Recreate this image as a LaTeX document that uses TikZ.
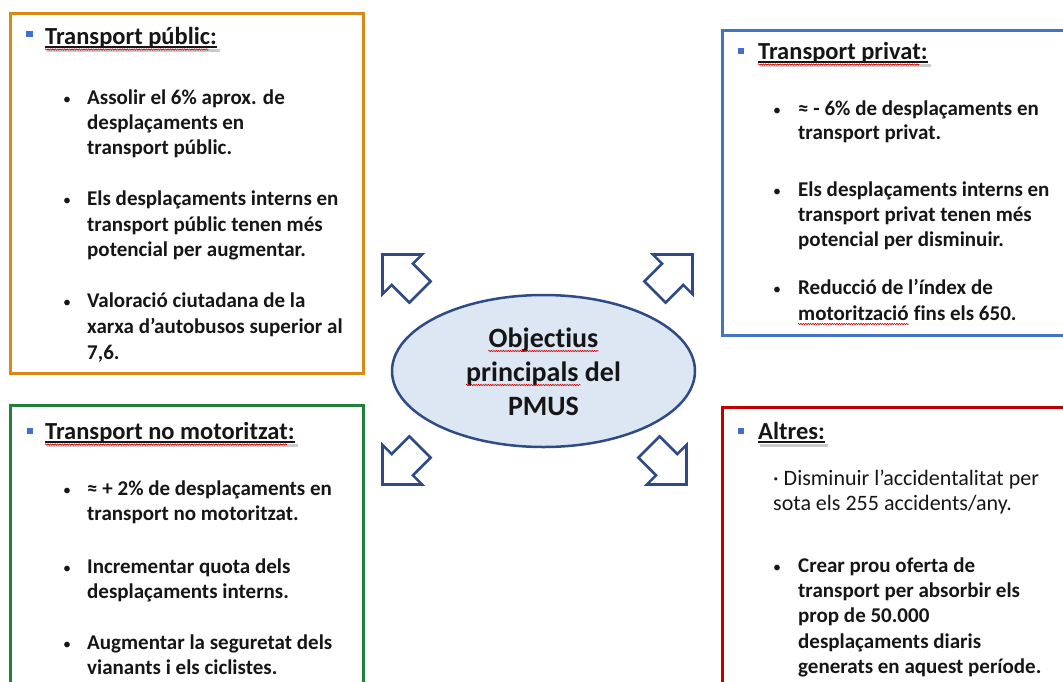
\documentclass[tikz,border=0pt]{standalone}
\usepackage{fontspec}
\setmainfont{Carlito}[Ligatures={NoCommon}]
\usetikzlibrary{calc,shapes.geometric,decorations.pathmorphing}

\definecolor{orangeframe}{HTML}{D98A16}
\definecolor{blueframe}{HTML}{4472C4}
\definecolor{greenframe}{HTML}{23803A}
\definecolor{redframe}{HTML}{C00000}
\definecolor{navy}{HTML}{2F4B86}
\definecolor{ellfill}{HTML}{DDE7F3}
\definecolor{sqblue}{HTML}{3F70D0}
\definecolor{ink}{HTML}{161616}

\tikzset{
  frame/.style={line width=3pt},
  head/.style={anchor=base west, inner sep=0pt, text=ink,
    font=\fontsize{24.5}{29}\selectfont\bfseries},
  ul/.style={ink, line width=1.4pt},
  ulshadow/.style={black!45, line width=3pt, opacity=0.45},
  body/.style={anchor=base west, inner sep=0pt, text=ink,
    font=\fontsize{21}{25}\selectfont\bfseries},
  plain/.style={anchor=base west, inner sep=0pt, text=ink,
    font=\fontsize{22}{25}\selectfont},
  dot/.style={anchor=base, inner sep=0pt, text=ink,
    font=\fontsize{16}{25}\selectfont},
  sq/.style={fill=sqblue},
  spell/.style={red!85!black, line width=0.6pt, decorate,
    decoration={zigzag, amplitude=0.7pt, segment length=2.4pt}},
  title/.style={anchor=base, inner sep=0pt, text=ink,
    font=\fontsize{28}{34}\selectfont\bfseries},
  blockarrow/.pic={
    \draw[navy, line width=2.6pt, line join=miter, fill=white]
      (0,-15) -- (25,-15) -- (25,-28) -- (53,0) -- (25,28) -- (25,15) -- (0,15) -- cycle;
  }
}

\begin{document}
\begin{tikzpicture}[x=1pt, y=-1pt]
  \clip (0,0) rectangle (1063,681);
  \fill[white] (0,0) rectangle (1063,681);

  % frames of the four groups
  \draw[frame, orangeframe] (10,13) rectangle (363,373);
  \draw[frame, blueframe]   (722,30) rectangle (1075,335);
  \draw[frame, greenframe]  (10,405) rectangle (363,700);
  \draw[frame, redframe]    (722,407) rectangle (1075,700);

  % central ellipse
  \node[ellipse, draw=navy, fill=ellfill, line width=2.5pt, inner sep=0pt,
        minimum width=303pt, minimum height=152pt] (core) at (543.5,371) {};
  \node[title] (t1) at (543.5,347) {Objectius};
  \node[title] (t2) at (543.5,381) {principals del};
  \node[title] (t3) at (543.5,415) {PMUS};
  \draw[spell] ($(t1.base west)+(0,4)$) -- ($(t1.base east)+(0,4)$);
  \draw[spell] ($(t2.base west)+(0,4)$) -- ($(t2.base west)!0.74!(t2.base east)+(0,4)$);

  % block arrows pointing outwards
  \pic[rotate=135] at (420,292) {blockarrow};
  \pic[rotate=45]  at (655,292) {blockarrow};
  \pic[rotate=225] at (420,447) {blockarrow};
  \pic[rotate=315] at (649,447) {blockarrow};

  % ---------- Transport públic ----------
  \fill[sq] (26,31) rectangle (33,37);
  \node[head] (hA) at (45,44) {Transport públic:};
  \draw[ulshadow] ($(hA.base west)+(2,6)$) -- ($(hA.base east)+(3,6)$);
  \draw[ul] ($(hA.base west)+(0,3)$) -- ($(hA.base east)+(0,3)$);
  \draw[spell] ($(hA.base west)+(0,5.5)$) -- ($(hA.base west)!0.95!(hA.base east)+(0,5.5)$);

  \node[dot] (dA1) at (67,104) {•};
  \node[body] (a11) at (87,104) {Assolir el 6\% aprox. de};
  \node[body] (a12) at (87,129) {desplaçaments en};
  \node[body] (a13) at (87,154) {transport públic.};
  \node[dot] (dA2) at (67,205) {•};
  \node[body] (a21) at (87,205) {Els desplaçaments interns en};
  \node[body] (a22) at (87,231) {transport públic tenen més};
  \node[body] (a23) at (87,256) {potencial per augmentar.};
  \node[dot] (dA3) at (67,307) {•};
  \node[body] (a31) at (87,307) {Valoració ciutadana de la};
  \node[body] (a32) at (87,333) {xarxa d’autobusos superior al};
  \node[body] (a33) at (87,359) {7,6.};

  % ---------- Transport privat ----------
  \fill[sq] (738,48) rectangle (744,54);
  \node[head] (hB) at (758,59) {Transport privat:};
  \draw[ulshadow] ($(hB.base west)+(2,6)$) -- ($(hB.base east)+(3,6)$);
  \draw[ul] ($(hB.base west)+(0,3)$) -- ($(hB.base east)+(0,3)$);
  \draw[spell] ($(hB.base west)+(0,5.5)$) -- ($(hB.base west)!0.95!(hB.base east)+(0,5.5)$);

  \node[dot] (dB1) at (777,115) {•};
  \node[body] (b11) at (798,115) {≈ - 6\% de desplaçaments en};
  \node[body] (b12) at (798,139) {transport privat.};
  \node[dot] (dB2) at (777,196) {•};
  \node[body] (b21) at (798,196) {Els desplaçaments interns en};
  \node[body] (b22) at (798,221) {transport privat tenen més};
  \node[body] (b23) at (798,246) {potencial per disminuir.};
  \node[dot] (dB3) at (777,294) {•};
  \node[body] (b31) at (798,294) {Reducció de l’índex de};
  \node[body] (b32) at (798,320) {motorització};
  \node[body, xshift=5pt] (b33) at (b32.base east) {fins els 650.};
  \draw[spell] ($(b32.base west)+(0,4)$) -- ($(b32.base east)+(0,4)$);

  % ---------- Transport no motoritzat ----------
  \fill[sq] (27,428) rectangle (33,434);
  \node[head] (hC) at (45,439) {Transport no motoritzat:};
  \draw[ulshadow] ($(hC.base west)+(2,6)$) -- ($(hC.base east)+(3,6)$);
  \draw[ul] ($(hC.base west)+(0,3)$) -- ($(hC.base east)+(0,3)$);
  \draw[spell] ($(hC.base west)+(0,5.5)$) -- ($(hC.base west)!0.97!(hC.base east)+(0,5.5)$);

  \node[dot] (dC1) at (67,495) {•};
  \node[body] (c11) at (87,495) {≈ + 2\% de desplaçaments en};
  \node[body] (c12) at (87,520) {transport no motoritzat.};
  \node[dot] (dC2) at (67,573) {•};
  \node[body] (c21) at (87,573) {Incrementar quota dels};
  \node[body] (c22) at (87,598) {desplaçaments interns.};
  \node[dot] (dC3) at (67,649) {•};
  \node[body] (c31) at (87,649) {Augmentar la seguretat dels};
  \node[body] (c32) at (87,674) {vianants i els ciclistes.};

  % ---------- Altres ----------
  \fill[sq] (738,428) rectangle (744,434);
  \node[head] (hD) at (758,439) {Altres:};
  \draw[ulshadow] ($(hD.base west)+(2,6)$) -- ($(hD.base east)+(3,6)$);
  \draw[ul] ($(hD.base west)+(0,3)$) -- ($(hD.base east)+(0,3)$);

  \node[plain] (d01) at (773,485) {· Disminuir l’accidentalitat per};
  \node[plain] (d02) at (773,510) {sota els 255 accidents/any.};
  \node[dot] (dD1) at (777,572) {•};
  \node[body] (d11) at (798,572) {Crear prou oferta de};
  \node[body] (d12) at (798,597) {transport per absorbir els};
  \node[body] (d13) at (798,622) {prop de 50.000};
  \node[body] (d14) at (798,648) {desplaçaments diaris};
  \node[body] (d15) at (798,673) {generats en aquest període.};
\end{tikzpicture}
\end{document}
